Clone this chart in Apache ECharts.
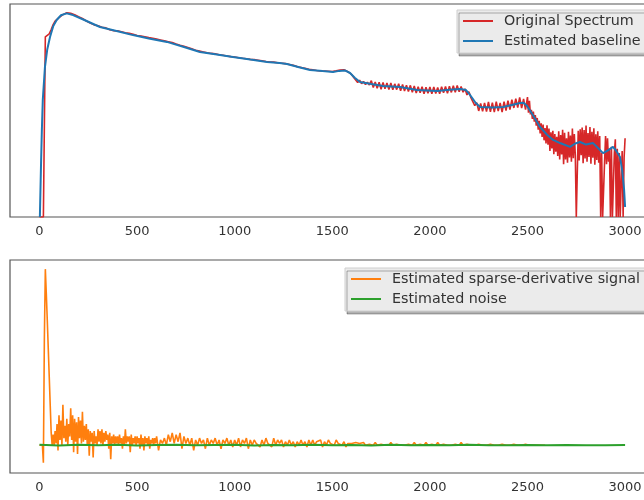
<!DOCTYPE html>
<html>
<head>
<meta charset="utf-8">
<script src="https://cdn.jsdelivr.net/npm/echarts@6/dist/echarts.min.js"></script>
<style>html,body{margin:0;padding:0;background:#fff}#c{width:644px;height:500px}</style>
</head>
<body>
<div id="c"></div>
<script>
// original spectrum: every 10 units from 0 to 2490, then every 5 units from 2500 to 3000
const specHead = [
 0,0,0,84.6,85.2,86.0,88.0,90.3,92.0,92.9,
 93.6,94.3,95.0,95.6,95.9,95.7,95.6,95.2,95.0,94.6,
 94.0,93.3,93.2,92.5,92.0,91.9,91.1,90.9,90.2,90.0,
 89.8,89.0,89.1,88.6,88.8,88.2,87.9,88.1,87.5,87.7,
 87.4,86.8,87.0,86.4,86.5,86.0,86.2,85.6,85.8,85.3,
 85.2,84.7,84.9,84.3,84.6,84.0,84.2,83.7,83.9,83.4,
 83.5,82.9,83.1,82.4,82.7,82.0,82.3,81.7,81.9,81.3,
 81.2,80.5,80.6,79.9,80.2,79.4,79.6,78.9,79.0,78.5,
 78.3,77.7,77.9,77.2,77.5,76.9,77.1,76.5,76.8,76.4,
 76.6,76.0,76.2,75.7,75.9,75.3,75.6,75.0,75.3,74.9,
 75.1,74.5,74.8,74.2,74.5,73.9,74.3,73.7,74.0,73.5,
 73.9,73.2,73.6,72.9,73.3,72.6,73.0,72.4,72.8,72.3,
 72.7,72.1,72.4,71.9,72.2,71.6,72.0,71.5,71.6,71.0,
 71.2,70.4,70.6,69.9,70.2,69.5,69.8,69.1,69.4,68.8,
 69.1,68.5,68.8,68.2,68.6,68.0,68.5,67.9,68.4,67.9,
 68.3,67.8,68.6,68.2,69.0,68.5,69.1,68.3,68.2,67.4,
 66.8,65.5,64.9,63.1,64.2,62.6,63.6,62.2,63.3,62.0,
 64.0,60.8,63.4,60.5,63.3,60.0,63.2,60.2,62.9,59.9,
 62.9,59.7,62.5,59.8,62.6,59.3,62.2,59.2,61.9,58.9,
 61.8,58.6,61.5,58.2,61.1,58.3,61.2,57.9,60.9,58.1,
 61.0,57.8,61.1,58.0,60.8,57.9,61.2,58.3,61.3,58.1,
 61.4,58.5,61.6,58.6,61.8,58.8,61.3,58.6,60.2,57.3,
 58.8,56.0,56.3,52.3,53.7,49.8,53.3,49.6,53.6,49.5,
 54.0,49.4,53.7,49.2,54.1,49.7,53.6,49.3,54.2,50.0,
 54.6,50.4,55.1,51.2,55.6,51.4,56.2,51.1,55.4,50.4
];
const specTail = [
 56.3,49.0,54.5,48.2,50.3,46.0,49.5,44.8,47.8,42.9,46.5,41.0,45.2,39.2,44.0,37.6,43.4,36.0,41.8,34.5,
 43.0,33.9,41.5,31.0,39.8,32.2,40.5,29.5,39.0,30.6,37.7,28.7,40.2,27.0,38.5,29.4,41.0,24.8,39.5,27.0,
 36.9,25.5,40.0,28.0,38.2,26.0,41.5,27.6,39.0,29.0,0,0,40.5,26.5,41.2,29.0,42.0,25.2,40.8,27.5,
 43.0,26.0,39.4,28.2,42.2,25.0,40.0,27.8,41.6,24.5,38.8,26.8,40.2,25.5,38.0,0,30.0,0,0,26.0,
 38.0,24.8,37.0,26.0,32.0,0,33.0,0,0,30.0,36.5,0,32.0,0,30.0,0,0,31.0,0,28.0,
 37.0
];
const specHeadStep = 10, specTailStart = 2500, specTailStep = 5;

const baseX = [2,8,12,17,28,40,54,70,88,110,139,172,230,310,400,479,560,653,740,822,900,991,1080,1166,1230,1268,1330,1386,1450,1504,1535,1565,1591,1615,1642,1700,1760,1847,1934,2037,2100,2155,2185,2206,2235,2257,2320,2375,2420,2462,2480,2498,2530,2564,2600,2631,2670,2718,2745,2769,2800,2836,2860,2887,2910,2938,2955,2974,2985,2995,3000];
const baseY = [0,25,40,55,70.4,78.8,84.5,89.5,92.5,94.7,95.6,94.8,92.5,89.2,87.2,85.4,83.8,82.2,79.8,77.5,76.4,75.1,73.9,72.8,72.3,71.8,70.3,69.0,68.5,68.1,68.6,68.8,67.6,65.4,63.4,62.4,61.5,61.0,59.6,59.2,59.7,60.1,59.6,57.3,53.5,51.6,51.4,51.6,52.6,53.5,53.6,52.1,47.5,42.3,38.6,36.2,34.6,32.9,34.5,35.2,34.0,34.7,32.5,30.0,31.2,32.9,31.0,28.2,22.0,12.7,4.7];

// sparse-derivative signal: every 5 units from 0 to 595, then every 10 units from 600
const sparseHead = [
 0,0,0,0,-0.1,0.6,1.0,0.86,0.71,0.55,0.39,0.23,0.07,0.0,
 0.06,0.0,0.08,0.01,0.12,-0.03,0.17,0.03,0.14,0.0,0.23,0.04,0.11,0.02,0.15,0.0,
 0.12,0.05,0.21,0.03,0.17,-0.04,0.15,0.02,0.13,-0.05,0.16,0.04,0.14,0.01,0.19,0.02,
 0.11,0.03,0.12,0.0,0.09,-0.06,0.08,0.02,0.07,-0.07,0.08,0.01,0.05,0.0,
 0.09,0.02,0.08,0.01,0.09,0.0,0.07,0.02,0.08,0.03,0.06,-0.02,0.07,-0.08,0.05,0.01,
 0.06,0.0,0.05,0.01,0.05,0.0,0.06,0.01,0.04,-0.02,0.05,0.0,0.09,0.01,0.05,0.02,
 0.05,-0.04,0.06,0.0,0.04,0.01,0.05,0.0,0.05,0.01,0.04,-0.02,0.06,0.0,0.04,-0.03,
 0.05,0.01,0.04,0.0,0.05,-0.02,0.03,0.01,0.04,0.0,0.04,0.01
];
const sparseTail = [
 0.05,-0.03,0.03,0.01,0.04,0.0,0.06,0.02,0.07,0.01,
 0.06,0.02,0.07,-0.02,0.05,0.01,0.04,0.0,0.04,-0.03,
 0.03,0.0,0.04,0.01,0.03,-0.02,0.04,0.0,0.03,0.01,
 0.04,0.0,0.03,-0.02,0.03,0.01,0.04,0.0,0.03,-0.01,
 0.03,0.0,0.04,-0.01,0.03,0.01,0.04,-0.02,0.03,0.0,
 0.03,0.01,0.02,-0.01,0.03,0.0,0.04,0.01,0.02,-0.01,
 0.04,0.0,0.03,0.01,0.03,-0.01,0.02,0.0,0.03,0.0,
 0.02,-0.01,0.02,0.0,0.03,0.0,0.02,-0.01,0.03,0.0,
 0.03,0.0,0.02,0.01,0.03,-0.01,0.02,0.0,0.03,0.01,
 0.02,0.0,0.03,0.01,0.02,0.0,0.02,-0.01,0.01,0.0,
 0.01,0.0,0.015,0.005,0.01,0.0,0.015,0.0,0.01,0.005,
 0.01,0.0,0.015,0.0,0.01,0.005,0.015,0.0,0.01,0.0,
 0.015,0.0,0.01,0.005,0.015,0.0,0.01,0.0,0.01,0.005,
 0.01,0.0,0.015,0.0,0.01,0.005,0.01,0.0,0.015,0.0,
 0.01,0.005,0.01,0.0,0.015,0.0,0.01,0.005,0.01,0.0,
 0.01,0.0,0.01,0.005,0.01,0.0,0.015,0.0,0.01,0.005,
 0.01,0.0,0.01,0.0,0.01,0.005,0.01,0.0,0.01,0.0,
 0.01,0.005,0.01,0.0,0.01,0.0,0.01,0.005,0.01,0.0,
 0.01,0.0,0.01,0.005,0.01,0.0,0.01,0.0,0.01,0.005,
 0.01,0.0,0.005,0,0,0,0,0,0,0
];
const sparseHeadStep = 5, sparseTailStart = 600, sparseTailStep = 10;

const noiseStep = 100;
const noise = [0.002,-0.002,0.003,-0.001,0.002,-0.002,0.001,0.002,-0.001,0.001,0.002,-0.002,0.001,0.0,0.002,-0.001,0.001,-0.002,0.002,0.0,0.001,-0.001,0.002,0.0,-0.001,0.001,0.0,0.001,-0.001,0.0,0.001];

const xRange = {min:-151, max:3102};
const FONT = 'DejaVu Sans';

const specData = specHead.map((v,i)=>[i*specHeadStep, v])
  .concat(specTail.map((v,i)=>[specTailStart + i*specTailStep, v]));
const baseData = baseX.map((x,i)=>[x, baseY[i]]);
const sparseData = sparseHead.map((v,i)=>[i*sparseHeadStep, v])
  .concat(sparseTail.map((v,i)=>[sparseTailStart + i*sparseTailStep, v]));
const noiseData = noise.map((v,i)=>[i*noiseStep, v]);

function xAx(gi){
  return {type:'value', gridIndex:gi, min:xRange.min, max:xRange.max, splitNumber:6,
    axisLine:{show:false}, axisTick:{show:false}, splitLine:{show:false},
    axisLabel:{showMinLabel:false, showMaxLabel:false, margin:8, color:'#333', fontSize:13, fontFamily:FONT,
      formatter:v=>String(v)}};
}
function yAx(gi,mn,mx){
  return {type:'value', gridIndex:gi, min:mn, max:mx, axisLine:{show:false}, axisTick:{show:false},
    splitLine:{show:false}, axisLabel:{show:false}};
}
const leg = (names, left, top)=>({
  data:names, orient:'vertical', left, top, icon:'rect', itemWidth:30, itemHeight:2, itemGap:6,
  padding:[4,12,5,6], backgroundColor:'#ebebeb', borderColor:'#cfcfcf', borderWidth:1, borderRadius:0,
  shadowColor:'rgba(0,0,0,0.3)', shadowBlur:0, shadowOffsetX:2, shadowOffsetY:3,
  textStyle:{color:'#333', fontSize:14.3, fontFamily:FONT, padding:[0,0,0,6]}
});

const chart = echarts.init(document.getElementById('c'));
chart.setOption({
  animation:false,
  grid:[
    {left:10, top:4, width:635, height:213, outerBoundsMode:'none', show:true, borderColor:'#555', borderWidth:1.2, backgroundColor:'transparent'},
    {left:10, top:260, width:635, height:213, outerBoundsMode:'none', show:true, borderColor:'#555', borderWidth:1.2, backgroundColor:'transparent'}
  ],
  xAxis:[xAx(0), xAx(1)],
  yAxis:[yAx(0,0,100), yAx(1,-0.158,1.052)],
  legend:[
    leg(['Original Spectrum','Estimated baseline'], 457, 10),
    leg(['Estimated sparse-derivative signal','Estimated noise'], 345, 268)
  ],
  series:[
    {name:'Original Spectrum', type:'line', xAxisIndex:0, yAxisIndex:0, data:specData, showSymbol:false, symbol:'none',
      color:'#d62728', lineStyle:{width:1.6, color:'#d62728'}},
    {name:'Estimated baseline', type:'line', xAxisIndex:0, yAxisIndex:0, data:baseData, showSymbol:false, symbol:'none',
      color:'#1f77b4', lineStyle:{width:2, color:'#1f77b4'}},
    {name:'Estimated sparse-derivative signal', type:'line', xAxisIndex:1, yAxisIndex:1, data:sparseData, showSymbol:false, symbol:'none',
      color:'#ff7f0e', lineStyle:{width:1.6, color:'#ff7f0e'}},
    {name:'Estimated noise', type:'line', xAxisIndex:1, yAxisIndex:1, data:noiseData, showSymbol:false, symbol:'none',
      color:'#2ca02c', lineStyle:{width:2, color:'#2ca02c'}}
  ]
});
</script>
</body>
</html>
